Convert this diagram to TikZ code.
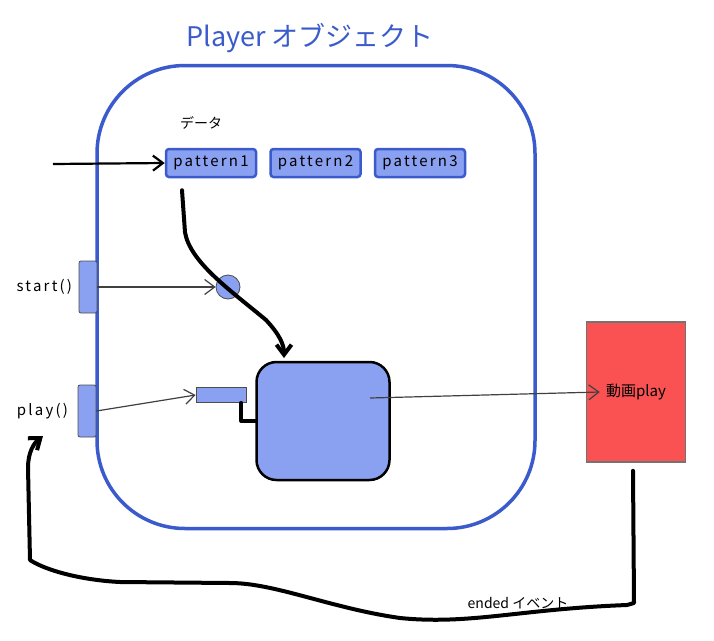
\documentclass[tikz,border=0pt]{standalone}
\usepackage{fontspec}
\setmainfont{Noto Sans CJK JP}
\usetikzlibrary{arrows.meta, positioning}

\definecolor{frameblue}{RGB}{59,91,204}
\definecolor{lightblue}{RGB}{138,160,240}
\definecolor{videored}{RGB}{250,82,82}

\begin{document}
\begin{tikzpicture}[
    x=1pt, y=-1pt, % One unit per pixel, y pointing down
    >={Straight Barb[length=10pt, width=15pt]}, % Set default arrow tip style
    objframe/.style={draw=frameblue, line width=3.5pt, rounded corners=88pt}, % Style for the object outline
    titletext/.style={text=frameblue, font=\fontsize{27}{30}\selectfont}, % Style for the title
    smalltext/.style={font=\fontsize{14}{16}\selectfont}, % Style for plain labels
    codetext/.style={font=\fontsize{15}{17}\selectfont\addfontfeature{LetterSpace=15}}, % Style for code labels
    patternbox/.style={codetext, draw=frameblue, line width=2.5pt, fill=lightblue, rounded corners=3pt, minimum width=90pt, minimum height=28pt, inner sep=0pt}, % Style for pattern boxes
    portbar/.style={draw=black!70, line width=0.8pt, fill=lightblue, rounded corners=2pt, minimum width=18pt, minimum height=52pt, inner sep=0pt}, % Style for start/play ports
    corebox/.style={draw=black, line width=2.5pt, fill=lightblue, rounded corners=20pt, minimum width=133pt, minimum height=118pt}, % Style for the inner box
    videobox/.style={draw=black!55, line width=1.5pt, fill=videored, minimum width=99pt, minimum height=140pt, font=\fontsize{15}{17}\selectfont}, % Style for the video box
    thickline/.style={line width=4pt, line cap=round, line join=round}, % Style for bold connectors
    thinarrow/.style={->, draw=black!75, line width=1.2pt} % Style for thin arrows
]
    \useasboundingbox (0,0) rectangle (714,640);

    % --- Player object ---
    \node[objframe, minimum width=438pt, minimum height=463pt] (player) at (316,297) {};
    \node[titletext] (title) at (310,38) {Player オブジェクト};

    % Data row
    \node[smalltext] (data) at (201,123) {データ};
    \node[patternbox] (pat1) at (211,163) {pattern1};
    \node[patternbox, right=12pt of pat1] (pat2) {pattern2};
    \node[patternbox, right=12pt of pat2] (pat3) {pattern3};

    % Ports and inner parts
    \node[portbar] (startbar) at (88,287) {};
    \node[codetext, left=3pt of startbar] (startlabel) {start()};
    \node[portbar] (playbar) at (87,411) {};
    \node[codetext, left=6pt of playbar] (playlabel) {play()};
    \node[circle, draw=black!70, line width=0.8pt, fill=lightblue, minimum size=24pt] (dot) at (228,287) {};
    \node[draw=black!70, line width=0.8pt, fill=lightblue, minimum width=50pt, minimum height=15pt, inner sep=0pt] (slot) at (221,395) {};
    \node[corebox] (core) at (323,421) {};

    % --- Video ---
    \node[videobox] (video) at (636,392) {動画play};
    \node[smalltext] (ended) at (518,603) {ended イベント};

    % Free ends
    \coordinate (datasrc) at (53,164);
    \coordinate (coretop) at (284,358);
    \coordinate (coreout) at (370,398);
    \coordinate (playret) at (43,436);

    % --- Connectors ---
    \draw[->, line width=2.2pt] (datasrc) -- (pat1.west);
    \draw[thinarrow] (startbar.east) -- (dot.west);
    \draw[thinarrow] (playbar.east) -- (slot.west);
    \draw[thickline] (slot.south east) ++(-5,0) |- (core.west);
    \draw[thickline, ->] (pat1.south) ++(-29,12) -- ++(3,42)
        .. controls (190,262) and (230,290) .. (266,320)
        .. controls (280,335) and (284,345) .. (coretop);
    \draw[thinarrow] (coreout) -- ([xshift=14pt]video.west);

    % Return path from the video to play()
    \draw[thickline, ->] (video.south) ++(-3,8) -- (634,603) -- (627,605)
        .. controls (520,609) and (470,625) .. (400,618)
        .. controls (330,608) and (275,583) .. (230,583) -- (120,582)
        .. controls (80,580) and (45,570) .. (30,560) -- (28,468)
        .. controls (28,452) and (34,443) .. (playret);

\end{tikzpicture}
\end{document}
